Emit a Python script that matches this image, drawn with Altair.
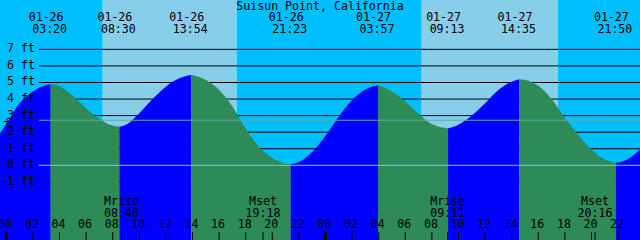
import altair as alt
import pandas as pd

FONT = "DejaVu Sans Mono"
FS = 11.6

title_text = "Suisun Point, California"

# High / low tide events (time, height in ft)
ext_times = ["01-26 03:20", "01-26 08:30", "01-26 13:54", "01-26 21:23",
             "01-27 03:57", "01-27 09:13", "01-27 14:35", "01-27 21:50"]
ext_ft = [4.89, 2.33, 5.45, 0.06, 4.83, 2.23, 5.19, 0.16]

# Tide height, hourly (hours after 01-26 00:00)
read_hours = list(range(48))
read_ft = [2.5, 3.75, 4.45, 4.85, 4.78, 4.2, 3.45, 2.8, 2.4, 2.45,
           3.15, 4.0, 4.75, 5.25, 5.44, 5.15, 4.55, 3.55, 2.2, 1.1,
           0.45, 0.1, 0.2, 0.8, 1.78, 2.95, 3.95, 4.58, 4.82, 4.45,
           3.85, 3.1, 2.5, 2.25, 2.45, 3.0, 3.75, 4.55, 5.05, 5.15,
           4.8, 4.0, 2.85, 1.85, 0.95, 0.35, 0.17, 0.5]
# values at the left and right edges of the picture
edge_hours = [-0.474, 47.647]
edge_ft = [1.93, 0.95]

sun_times = ["01-26 07:15", "01-26 17:19", "01-27 07:14", "01-27 17:29"]

moon_names = ["Mrise", "Mset", "Mrise", "Mset"]
moon_times = ["01-26 08:40", "01-26 19:18", "01-27 09:11", "01-27 20:16"]

ft_levels = [7, 6, 5, 4, 3, 2, 1, 0, -1]
mean_level = 2.72
tick_hours = list(range(0, 48, 2))

X_MIN, X_MAX = edge_hours
Y_MIN, Y_MAX = -4.51, 9.98


def hrs(s):
    md, hm = s.split()
    d = int(md.split("-")[1]) - 26
    h, m = hm.split(":")
    return d * 24 + int(h) + int(m) / 60.0


ext_t = [hrs(s) for s in ext_times]

# ---- tide curve table, split into rising / falling segments
pts = [(t, f) for t, f in zip(edge_hours, edge_ft)]
pts += [(t, f) for t, f in zip(read_hours, read_ft)]
pts += [(t, f) for t, f in zip(ext_t, ext_ft)]
pts.sort()
bounds = [X_MIN] + ext_t + [X_MAX]
rows = []
for i in range(len(bounds) - 1):
    lo, hi = bounds[i], bounds[i + 1]
    seg = [(t, f) for t, f in pts if lo - 1e-9 <= t <= hi + 1e-9]
    d = "flood" if seg[-1][1] > seg[0][1] else "ebb"
    for t, f in seg:
        rows.append({"t": t, "ft": f, "seg": i, "dir": d})
curve_df = pd.DataFrame(rows)

# ---- day / night bands
sun_t = [hrs(s) for s in sun_times]
sb = [X_MIN] + sun_t + [X_MAX]
bg_df = pd.DataFrame({
    "t0": sb[:-1], "t1": sb[1:],
    "phase": ["night" if i % 2 == 0 else "day" for i in range(len(sb) - 1)],
})

lv_df = pd.DataFrame({"ft": ft_levels, "label": [f"{v} ft" for v in ft_levels]})
ext_df = pd.DataFrame({"t": ext_t,
                       "date": [s.split()[0] for s in ext_times],
                       "time": [s.split()[1] for s in ext_times]})
tick_df = pd.DataFrame({"t": tick_hours,
                        "label": [f"{h % 24:02d}" for h in tick_hours],
                        "mid": [h % 24 == 0 for h in tick_hours]})
moon_df = pd.DataFrame({"t": [hrs(s) for s in moon_times],
                        "name": moon_names,
                        "time": [s.split()[1] for s in moon_times]})

xs = alt.Scale(domain=[X_MIN, X_MAX], nice=False, zero=False)
ys = alt.Scale(domain=[Y_MIN, Y_MAX], nice=False, zero=False)
X = lambda f: alt.X(f, type="quantitative", scale=xs, axis=None)
Y = lambda f: alt.Y(f, type="quantitative", scale=ys, axis=None)

bg = alt.Chart(bg_df).mark_rect().encode(
    x=X("t0"), x2="t1",
    y=alt.value(0), y2=alt.value(240),
    color=alt.Color("phase:N", legend=None,
                    scale=alt.Scale(domain=["night", "day"], range=["#00BFFF", "#87CEEB"])),
)

grid = alt.Chart(lv_df).mark_rule(color="black", strokeWidth=1).encode(
    y=Y("ft"), x=alt.value(39), x2=alt.value(640))

area = alt.Chart(curve_df).mark_area(interpolate="monotone").encode(
    x=X("t"),
    y=alt.Y("ft:Q", scale=ys, axis=None, stack=None),
    y2=alt.value(240),
    detail="seg:N",
    color=alt.Color("dir:N", legend=None,
                    scale=alt.Scale(domain=["flood", "ebb"], range=["#0000FF", "#2E8B57"])),
)

mean_rule = alt.Chart(pd.DataFrame({"ft": [mean_level]})).mark_rule(
    color="#5FAA9C", strokeWidth=1).encode(y=Y("ft"), x=alt.value(39), x2=alt.value(640))
datum_rule = alt.Chart(pd.DataFrame({"ft": [0]})).mark_rule(
    color="#84C8E6", strokeWidth=1).encode(y=Y("ft"), x=alt.value(39), x2=alt.value(640))

txt = dict(font=FONT, fontSize=FS, color="black")

ylab = alt.Chart(lv_df).mark_text(align="right", baseline="middle", **txt).encode(
    y=Y("ft"), x=alt.value(35), text="label:N")

plus = alt.Chart(pd.DataFrame({"s": ["+"]})).mark_text(
    align="center", baseline="middle", **txt).encode(
    x=alt.value(7), y=alt.value(123), text="s:N")

top_date = alt.Chart(ext_df).mark_text(align="center", baseline="middle", dx=-4.5, **txt).encode(
    x=X("t"), y=alt.value(17.5), text="date:N")
top_time = alt.Chart(ext_df).mark_text(align="center", baseline="middle", dx=-1, **txt).encode(
    x=X("t"), y=alt.value(29.5), text="time:N")

title = alt.Chart(pd.DataFrame({"s": [title_text]})).mark_text(
    align="center", baseline="middle", **txt).encode(
    x=alt.value(320), y=alt.value(6.5), text="s:N")

ticks = alt.Chart(tick_df).transform_filter("!datum.mid").mark_rule(
    color="black", strokeWidth=1).encode(x=X("t"), y=alt.value(232), y2=alt.value(240))
mticks = alt.Chart(tick_df).transform_filter("datum.mid").mark_rule(
    color="black", strokeWidth=3).encode(x=X("t"), y=alt.value(232), y2=alt.value(240))
hlab = alt.Chart(tick_df).mark_text(align="center", baseline="middle", dx=-1, **txt).encode(
    x=X("t"), y=alt.value(225), text="label:N")

moon_ticks = alt.Chart(moon_df).mark_rule(color="black", strokeWidth=1).encode(
    x=X("t"), y=alt.value(232), y2=alt.value(240))
moon_name = alt.Chart(moon_df).mark_text(align="center", baseline="middle", **txt).encode(
    x=X("t"), y=alt.value(202), text="name:N")
moon_time = alt.Chart(moon_df).mark_text(align="center", baseline="middle", **txt).encode(
    x=X("t"), y=alt.value(214), text="time:N")

chart = alt.layer(
    bg, grid, area, mean_rule, datum_rule, ylab, plus, top_date, top_time, title,
    ticks, mticks, hlab, moon_ticks, moon_name, moon_time,
).resolve_scale(color="independent").properties(
    width=640, height=240, padding=0, autosize=alt.AutoSizeParams(type="none"),
).configure_view(stroke=None)

chart.save("out.html", embed_options={"renderer": "svg", "actions": False})
